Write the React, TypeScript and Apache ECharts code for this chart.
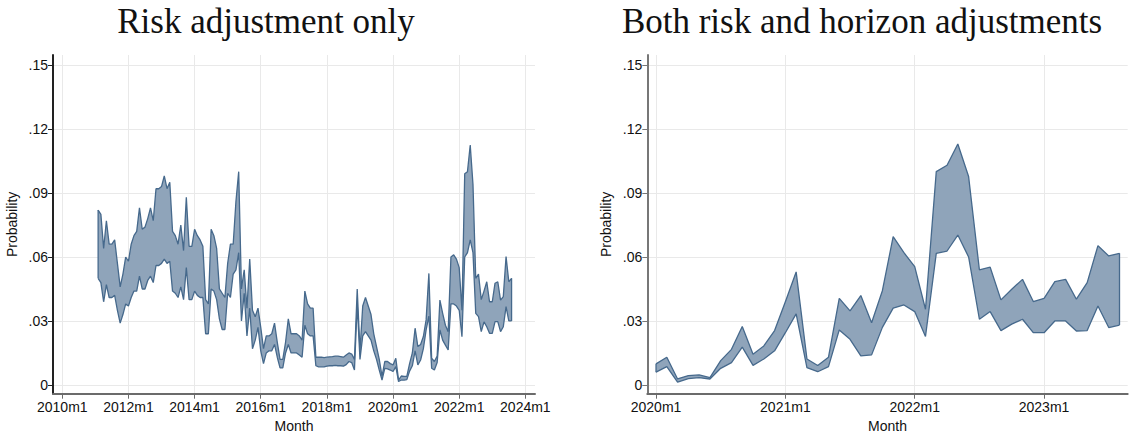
import React, { useEffect, useRef } from "react";
import * as echarts from "echarts";

// Left panel: months counted from 2010m1 (index 0); data start at 2011m2
const leftStartMonth = 13;
const leftUpper = [
  0.082, 0.080, 0.064, 0.077, 0.066, 0.066, 0.068, 0.057, 0.046, 0.052,
  0.060, 0.058, 0.066, 0.070, 0.072, 0.083, 0.073, 0.074, 0.078, 0.083,
  0.077, 0.092, 0.092, 0.093, 0.098, 0.092, 0.095, 0.072, 0.070, 0.066,
  0.075, 0.063, 0.088, 0.065, 0.065, 0.073, 0.070, 0.068, 0.065, 0.040,
  0.038, 0.073, 0.070, 0.064, 0.045, 0.043, 0.041, 0.057, 0.066, 0.066,
  0.086, 0.100, 0.045, 0.054, 0.036, 0.059, 0.035, 0.032, 0.036, 0.027,
  0.017, 0.023, 0.023, 0.024, 0.029, 0.020, 0.012, 0.012, 0.020, 0.031,
  0.024, 0.024, 0.024, 0.023, 0.021, 0.044, 0.038, 0.036, 0.036, 0.013,
  0.013, 0.013, 0.0128, 0.013, 0.0132, 0.0133, 0.0135, 0.0135, 0.0133, 0.013,
  0.014, 0.015, 0.0145, 0.012, 0.045, 0.016, 0.037, 0.041, 0.037, 0.033,
  0.024, 0.018, 0.012, 0.004, 0.011, 0.011, 0.010, 0.0094, 0.0125, 0.0023,
  0.0042, 0.0040, 0.0040, 0.010, 0.015, 0.0266, 0.018, 0.019, 0.0227, 0.0305,
  0.0523, 0.0125, 0.011, 0.0135, 0.0398, 0.0336, 0.028, 0.025, 0.060, 0.061,
  0.059, 0.055, 0.035, 0.099, 0.100, 0.1125, 0.094, 0.050, 0.052, 0.040,
  0.044, 0.0484, 0.039, 0.039, 0.0477, 0.0484, 0.0398, 0.0414, 0.0602, 0.0484,
  0.050,
];
const leftLower = [
  0.050, 0.048, 0.039, 0.047, 0.041, 0.041, 0.042, 0.035, 0.029, 0.033,
  0.038, 0.037, 0.041, 0.044, 0.044, 0.051, 0.045, 0.045, 0.049, 0.051,
  0.048, 0.056, 0.056, 0.057, 0.059, 0.057, 0.058, 0.044, 0.043, 0.041,
  0.046, 0.040, 0.055, 0.040, 0.040, 0.044, 0.042, 0.041, 0.041, 0.024,
  0.024, 0.045, 0.044, 0.040, 0.031, 0.026, 0.026, 0.043, 0.041, 0.052,
  0.054, 0.062, 0.030, 0.043, 0.023, 0.036, 0.017, 0.021, 0.027, 0.016,
  0.010, 0.015, 0.016, 0.016, 0.019, 0.013, 0.008, 0.008, 0.015, 0.019,
  0.015, 0.015, 0.015, 0.014, 0.013, 0.028, 0.024, 0.023, 0.023, 0.009,
  0.0085, 0.0085, 0.0085, 0.0088, 0.009, 0.009, 0.0092, 0.009, 0.009, 0.0088,
  0.0095, 0.011, 0.0105, 0.007, 0.038, 0.012, 0.023, 0.025, 0.023, 0.021,
  0.016, 0.012, 0.007, 0.0023, 0.0078, 0.0075, 0.007, 0.0063, 0.0086, 0.0016,
  0.0023, 0.0023, 0.0025, 0.0065, 0.009, 0.016, 0.0094, 0.0117, 0.017, 0.0258,
  0.0323, 0.0078, 0.007, 0.0105, 0.0258, 0.021, 0.0187, 0.0164, 0.038, 0.038,
  0.037, 0.035, 0.0226, 0.060, 0.062, 0.068, 0.062, 0.0336, 0.032, 0.025,
  0.0296, 0.0273, 0.0242, 0.0242, 0.0297, 0.0297, 0.025, 0.0273, 0.0367, 0.030,
  0.030,
];

// Right panel: months counted from 2020m1 (index 0)
const rightStartMonth = 0;
const rightUpper = [
  0.0099, 0.013, 0.0028, 0.0044, 0.0047, 0.0034, 0.0114, 0.0167, 0.0274, 0.0144,
  0.0183, 0.0255, 0.039, 0.053, 0.0122, 0.0091, 0.013, 0.0406, 0.0347, 0.0419,
  0.0292, 0.0442, 0.0695, 0.062, 0.0555, 0.0355, 0.100, 0.103, 0.113, 0.0977,
  0.054, 0.0552, 0.0399, 0.0449, 0.0495, 0.0391, 0.0406, 0.0484, 0.0495, 0.0402,
  0.048, 0.0653, 0.0605, 0.0617,
];
const rightLower = [
  0.006, 0.0086, 0.0013, 0.003, 0.0034, 0.0028, 0.0078, 0.0105, 0.0177, 0.0092,
  0.0122, 0.016, 0.0245, 0.0333, 0.0081, 0.0062, 0.0086, 0.0258, 0.0214, 0.0136,
  0.0141, 0.027, 0.036, 0.0375, 0.0344, 0.0227, 0.0617, 0.0628, 0.0703, 0.060,
  0.0308, 0.0344, 0.0255, 0.0285, 0.0308, 0.0245, 0.0245, 0.030, 0.030, 0.0253,
  0.0255, 0.037, 0.0269, 0.0281,
];

const leftTickMonths = [0, 24, 48, 72, 96, 120, 144, 168];
const leftTickLabels = ["2010m1", "2012m1", "2014m1", "2016m1", "2018m1", "2020m1", "2022m1", "2024m1"];
const rightTickMonths = [0, 12, 24, 36];
const rightTickLabels = ["2020m1", "2021m1", "2022m1", "2023m1"];
const yTicks = [0, 0.03, 0.06, 0.09, 0.12, 0.15];
const yTickLabels = ["0", ".03", ".06", ".09", ".12", ".15"];

const titles = ["Risk adjustment only", "Both risk and horizon adjustments"];

const FILL = "#8fa4ba";
const LINE = "#46698c";
const SANS = "Liberation Sans, Arial, sans-serif";
const SERIF = "Liberation Serif, Times New Roman, serif";

function labelFrom(ticks: number[], labels: string[]) {
  return (v: number) => {
    const i = ticks.findIndex((t) => Math.abs(t - v) < 1e-6);
    return i >= 0 ? labels[i] : "";
  };
}

function bandSeries(idx: number, start: number, upper: number[], lower: number[]) {
  const n = upper.length - 1;
  const lineCommon = {
    type: "line",
    xAxisIndex: idx,
    yAxisIndex: idx,
    symbol: "none",
    silent: true,
    lineStyle: { color: LINE, width: 1.3 },
    z: 4,
  };
  return [
    {
      type: "custom",
      xAxisIndex: idx,
      yAxisIndex: idx,
      silent: true,
      z: 3,
      data: [[start, lower[0]]],
      renderItem: (_params: any, api: any) => {
        const pts: number[][] = [];
        for (let i = 0; i <= n; i++) pts.push(api.coord([start + i, upper[i]]));
        for (let i = n; i >= 0; i--) pts.push(api.coord([start + i, lower[i]]));
        return { type: "polygon", shape: { points: pts }, style: { fill: FILL, stroke: null } };
      },
    },
    { ...lineCommon, data: upper.map((v, i) => [start + i, v]) },
    { ...lineCommon, data: lower.map((v, i) => [start + i, v]) },
    { ...lineCommon, data: [[start, lower[0]], [start, upper[0]]] },
    { ...lineCommon, data: [[start + n, lower[n]], [start + n, upper[n]]] },
  ];
}

function xAxisFor(idx: number, min: number, max: number, ticks: number[], labels: string[]) {
  return {
    type: "value",
    gridIndex: idx,
    min,
    max,
    axisLine: { show: true, onZero: false, lineStyle: { color: "#6b6b6b", width: 2 } },
    axisTick: { show: true, length: 5, customValues: ticks, lineStyle: { color: "#6b6b6b", width: 1 } },
    axisLabel: {
      customValues: ticks,
      formatter: labelFrom(ticks, labels),
      fontSize: 14,
      color: "#111",
      fontFamily: SANS,
      margin: 6,
      showMinLabel: true,
      showMaxLabel: true,
    },
    splitLine: { show: true, lineStyle: { color: "#e9e9e9", width: 1 } },
    name: "Month",
    nameLocation: "middle",
    nameGap: 23,
    nameTextStyle: { fontSize: 14, lineHeight: 14, color: "#111", fontFamily: SANS },
  };
}

function yAxisFor(idx: number, axisColor: string) {
  return {
    type: "value",
    gridIndex: idx,
    min: -0.0041,
    max: 0.1547,
    axisLine: { show: true, onZero: false, lineStyle: { color: axisColor, width: 2 } },
    axisTick: { show: true, length: 5, customValues: yTicks, lineStyle: { color: axisColor, width: 1 } },
    axisLabel: {
      customValues: yTicks,
      formatter: labelFrom(yTicks, yTickLabels),
      fontSize: 14,
      color: "#111",
      fontFamily: SANS,
      margin: 5,
    },
    splitLine: { show: true, lineStyle: { color: "#e9e9e9", width: 1 } },
    name: "Probability",
    nameLocation: "middle",
    nameGap: 34,
    nameRotate: 90,
    nameTextStyle: { fontSize: 14, color: "#111", fontFamily: SANS },
  };
}

export default function App() {
  const ref = useRef<HTMLDivElement>(null);
  useEffect(() => {
    if (!ref.current) return;
    const chart = echarts.init(ref.current, undefined, { renderer: "svg" });
    const option = {
      animation: false,
      backgroundColor: "#fff",
      grid: [
        { left: 53, top: 55, width: 482, height: 338.7, containLabel: false, outerBoundsMode: "none" },
        { left: 647.3, top: 55, width: 480.4, height: 338.7, containLabel: false, outerBoundsMode: "none" },
      ],
      xAxis: [
        xAxisFor(0, -3.37, 171.5, leftTickMonths, leftTickLabels),
        xAxisFor(1, -0.81, 43.76, rightTickMonths, rightTickLabels),
      ],
      yAxis: [yAxisFor(0, "#222"), yAxisFor(1, "#777")],
      graphic: [
        {
          type: "text",
          x: 266,
          y: 21,
          style: { text: titles[0], fontSize: 35, fontFamily: SERIF, fill: "#111", align: "center", verticalAlign: "middle" },
        },
        {
          type: "text",
          x: 862,
          y: 21,
          style: { text: titles[1], fontSize: 35, fontFamily: SERIF, fill: "#111", align: "center", verticalAlign: "middle" },
        },
      ],
      series: [
        ...bandSeries(0, leftStartMonth, leftUpper, leftLower),
        ...bandSeries(1, rightStartMonth, rightUpper, rightLower),
      ],
    };
    chart.setOption(option as any);
    return () => chart.dispose();
  }, []);
  return (
    <div
      ref={ref}
      style={{ position: "absolute", left: 0, top: 0, width: 1129, height: 433, background: "#fff" }}
    />
  );
}
